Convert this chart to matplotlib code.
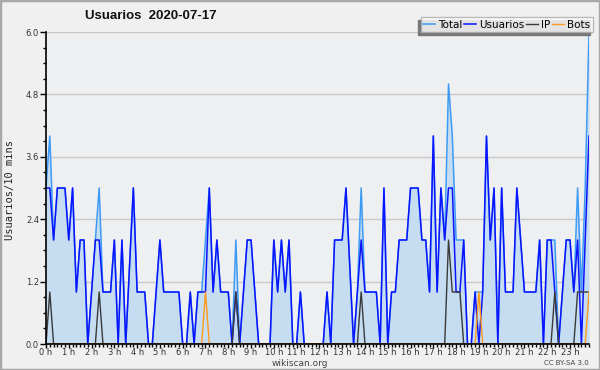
import matplotlib
matplotlib.use("Agg")
import matplotlib.pyplot as plt
from matplotlib.patches import Rectangle
from matplotlib.ticker import MultipleLocator, FixedLocator, FormatStrFormatter

# valores cada 10 minutos, una fila por hora (6 puntos)
usuarios = [
    3, 3, 2, 3, 3, 3,
    2, 3, 1, 2, 2, 0,
    1, 2, 2, 1, 1, 1,
    2, 0, 2, 0, 1.5, 3,
    1, 1, 1, 0, 0, 1,
    2, 1, 1, 1, 1, 1,
    0, 0, 1, 0, 1, 1,
    1, 3, 1, 2, 1, 1,
    1, 0, 1, 0, 1, 2,
    2, 1, 0, 0, 0, 0,
    2, 1, 2, 1, 2, 0,
    0, 1, 0, 0, 0, 0,
    0, 0, 1, 0, 2, 2,
    2, 3, 1.5, 0, 1, 2,
    1, 1, 1, 1, 0, 3,
    0, 1, 1, 2, 2, 2,
    3, 3, 3, 2, 2, 1,
    4, 1, 3, 2, 3, 3,
    1, 1, 2, 0, 0, 1,
    0, 1, 4, 2, 3, 0,
    3, 1, 1, 1, 3, 2,
    1, 1, 1, 1, 2, 0,
    2, 2, 1, 0, 1, 2,
    2, 1, 2, 0, 2, 4,
]

total = [
    3, 4, 2, 3, 3, 3,
    2, 3, 1, 2, 2, 0,
    1, 2, 3, 1, 1, 1,
    2, 0, 2, 0, 1.5, 3,
    1, 1, 1, 0, 0, 1,
    2, 1, 1, 1, 1, 1,
    0, 0, 1, 0, 1, 1,
    2, 3, 1, 2, 1, 1,
    1, 0, 2, 0, 1, 2,
    2, 1, 0, 0, 0, 0,
    2, 1, 2, 1, 2, 0,
    0, 1, 0, 0, 0, 0,
    0, 0, 1, 0, 2, 2,
    2, 3, 1.5, 0, 1, 3,
    1, 1, 1, 1, 0, 3,
    0, 1, 1, 2, 2, 2,
    3, 3, 3, 2, 2, 1,
    4, 1, 3, 2, 5, 4,
    2, 2, 2, 0, 0, 1,
    1, 1, 4, 2, 3, 0,
    3, 1, 1, 1, 3, 2,
    1, 1, 1, 1, 2, 0,
    2, 2, 2, 0, 1, 2,
    2, 1, 3, 1, 3, 6,
]

# IP y bots: casi siempre cero, solo los puntos distintos de cero (indice, valor)
ip_puntos = [(1, 1), (14, 1), (50, 1), (83, 1), (106, 2), (107, 1), (108, 1),
             (109, 1), (134, 1), (140, 1), (141, 1), (142, 1), (143, 1)]
bots_puntos = [(42, 1), (114, 1), (143, 1)]

ip = [0] * 144
for i, v in ip_puntos:
    ip[i] = v
bots = [0] * 144
for i, v in bots_puntos:
    bots[i] = v

horas = [i / 6 for i in range(144)]
etiquetas_x = [f"{h} h" for h in range(24)]

c_total = "#3d9bf5"
c_usuarios = "#0a14ff"
c_ip = "#3a3a3a"
c_bots = "#ff9a1a"
c_fill = "#c6dcf0"

fig = plt.figure(figsize=(6, 3.7), dpi=100, facecolor="#f0f0f0")
ax = fig.add_axes([46 / 600, 26 / 370, 543 / 600, 312 / 370])
ax.set_facecolor("#eeeff1")

ax.fill_between(horas, total, 0, color=c_fill, lw=0, zorder=1)
ax.plot(horas, total, color=c_total, lw=1.1, label="Total", zorder=3)
ax.plot(horas, usuarios, color=c_usuarios, lw=1.1, label="Usuarios", zorder=4)
ax.plot(horas, ip, color=c_ip, lw=1.0, label="IP", zorder=5)
ax.plot(horas, bots, color=c_bots, lw=1.0, label="Bots", zorder=6)

ax.set_xlim(0, 143 / 6)
ax.set_ylim(0, 6)
ax.xaxis.set_major_locator(FixedLocator(range(24)))
ax.set_xticklabels(etiquetas_x)
ax.xaxis.set_minor_locator(MultipleLocator(1 / 6))
ax.yaxis.set_major_locator(MultipleLocator(1.2))
ax.yaxis.set_minor_locator(MultipleLocator(0.3))
ax.yaxis.set_major_formatter(FormatStrFormatter("%.1f"))
ax.tick_params(which="major", length=4, width=1, color="black", labelsize=6,
               labelcolor="#333333")
ax.tick_params(axis="x", which="major", length=3, pad=0)
ax.tick_params(axis="y", which="major", pad=1)
ax.tick_params(which="minor", length=2.5, width=1, color="black")
ax.grid(axis="y", which="major", color="#c8c8c8", lw=1, zorder=0)
ax.set_axisbelow(True)
for s in ["top", "right"]:
    ax.spines[s].set_visible(False)
for s in ["left", "bottom"]:
    ax.spines[s].set_linewidth(1.2)
    ax.spines[s].set_zorder(7)

fig.text(151 / 600, 1 - 16 / 370, "Usuarios  2020-07-17", ha="center", va="center",
         fontsize=9.5, weight="bold", family="Liberation Sans", color="#111111")
fig.text(10 / 600, 1 - 190 / 370, "Usuarios/10 mins", rotation=90, ha="center",
         va="center", fontsize=7.5, family="DejaVu Sans Mono", color="#222222")
fig.text(300 / 600, 1 - 363.5 / 370, "wikiscan.org", ha="center", va="center",
         fontsize=6.5, color="#444444")
fig.text(589 / 600, 1 - 363 / 370, "CC BY-SA 3.0", ha="right", va="center",
         fontsize=5, color="#444444")

leg = fig.legend(loc="upper right", bbox_to_anchor=(593 / 600, 1 - 17 / 370),
                 ncol=4, fontsize=7.5, frameon=True, fancybox=False,
                 handlelength=1.1, handletextpad=0.35, columnspacing=0.15,
                 borderpad=0.25, borderaxespad=0)
leg.get_frame().set_edgecolor("#aaaaaa")
leg.get_frame().set_linewidth(1)
leg.set_zorder(10)

# sombra de la leyenda, desplazada abajo a la izquierda
fig.canvas.draw()
bb = leg.get_window_extent().transformed(fig.transFigure.inverted())
fig.add_artist(Rectangle((bb.x0 - 3 / 600, bb.y0 - 3 / 370), bb.width, bb.height,
                         transform=fig.transFigure, color="#777777", zorder=9))

# borde de la figura
fig.add_artist(Rectangle((0, 0), 1, 1, transform=fig.transFigure, fill=False,
                         edgecolor="#a8a8a8", lw=2.5))

fig.savefig("out.png", dpi=100, facecolor=fig.get_facecolor())
